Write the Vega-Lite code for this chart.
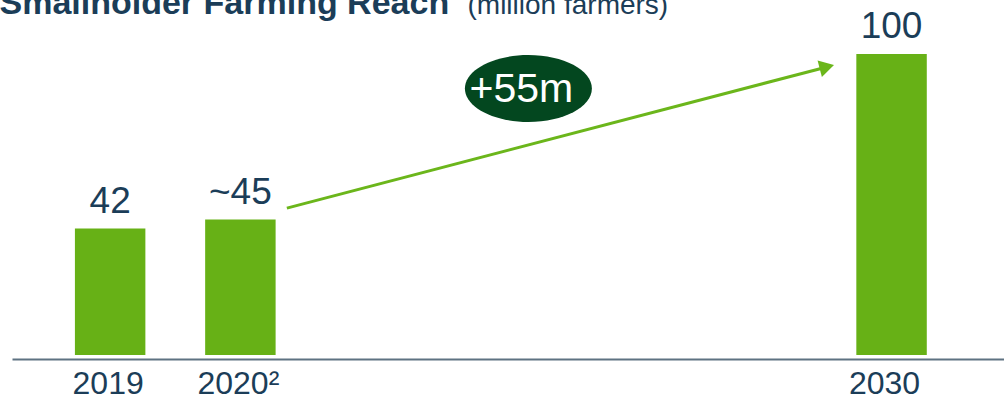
{
  "$schema": "https://vega.github.io/schema/vega-lite/v6.json",
  "width": 992,
  "height": 301,
  "autosize": "none",
  "padding": {"left": 12, "top": 54, "right": 0, "bottom": 45},
  "background": "white",
  "config": {"view": {"stroke": null}, "font": "Liberation Sans"},
  "data": {"values": [
    {"year": "2019", "value": 42, "label": "42"},
    {"year": "2020²", "value": 45, "label": "~45"},
    {"year": "2030", "value": 100, "label": "100"}
  ]},
  "encoding": {
    "x": {
      "field": "year", "type": "nominal",
      "scale": {"domain": ["2019", "2020²", " ", "  ", "   ", "    ", "2030"], "paddingInner": 0.459, "paddingOuter": 0.538, "align": 0.449},
      "axis": {
        "title": "(million farmers)", "titleX": 455, "titleY": -346, "titleAlign": "left", "titleBaseline": "alphabetic",
        "titleAngle": 0, "titleFontSize": 28, "titleFontWeight": "normal", "titleColor": "#1b3d58", "titleLimit": 1000,
        "domainColor": "#5e7282", "domainWidth": 2, "ticks": false, "grid": false, "offset": 4,
        "labelFontSize": 32, "labelColor": "#1b3d58", "labelPadding": 9, "labelAngle": 0,
        "labelOffset": {"condition": {"test": "datum.value === '2030'", "value": -7}, "value": -2}
      }
    },
    "y": {
      "field": "value", "type": "quantitative",
      "scale": {"domain": [0, 100], "nice": false},
      "axis": {
        "title": "Smallholder Farming Reach", "titleX": -13, "titleY": -41, "titleAngle": 0, "titleAlign": "left",
        "titleBaseline": "alphabetic", "titleFontSize": 34, "titleFontWeight": "bold", "titleColor": "#1b3d58", "titleLimit": 1000,
        "labels": false, "ticks": false, "domain": false, "grid": false
      }
    }
  },
  "layer": [
    {"mark": {"type": "bar", "color": "#67b116"}},
    {"mark": {"type": "text", "dy": -16, "baseline": "alphabetic", "align": "center", "fontSize": 37, "color": "#1b3d58"},
     "encoding": {"text": {"field": "label"}}},
    {"data": {"values": [{"year": "2020²", "year2": "2030", "value": 48.8, "value2": 95.7}]},
     "mark": {"type": "rule", "color": "#6bb61b", "strokeWidth": 3, "xOffset": 46.5, "x2Offset": -64.7},
     "encoding": {"x2": {"field": "year2"}, "y2": {"field": "value2"}}},
    {"data": {"values": [{"year": "2030", "value": 95.7}]},
     "mark": {"type": "point", "shape": "triangle-right", "angle": 345.35, "size": 289, "filled": true, "color": "#6bb61b", "opacity": 1, "xOffset": -64.7}},
    {"data": {"values": [{"year": "2020²", "value": 88.54, "label": "+55m"}]},
     "mark": {"type": "point", "shape": "M-1.895,0C-1.895,-0.5523,-1.0466,-1,0,-1C1.0466,-1,1.895,-0.5523,1.895,0C1.895,0.5523,1.0466,1,0,1C-1.0466,1,-1.895,0.5523,-1.895,0Z", "size": 4489, "filled": true, "color": "#03471f", "opacity": 1, "strokeWidth": 0, "xOffset": 288}},
    {"data": {"values": [{"year": "2020²", "value": 88.54, "label": "+55m"}]},
     "mark": {"type": "text", "color": "white", "fontSize": 41, "baseline": "alphabetic", "align": "center", "dy": 13.5, "xOffset": 281},
     "encoding": {"text": {"field": "label"}}}
  ]
}
